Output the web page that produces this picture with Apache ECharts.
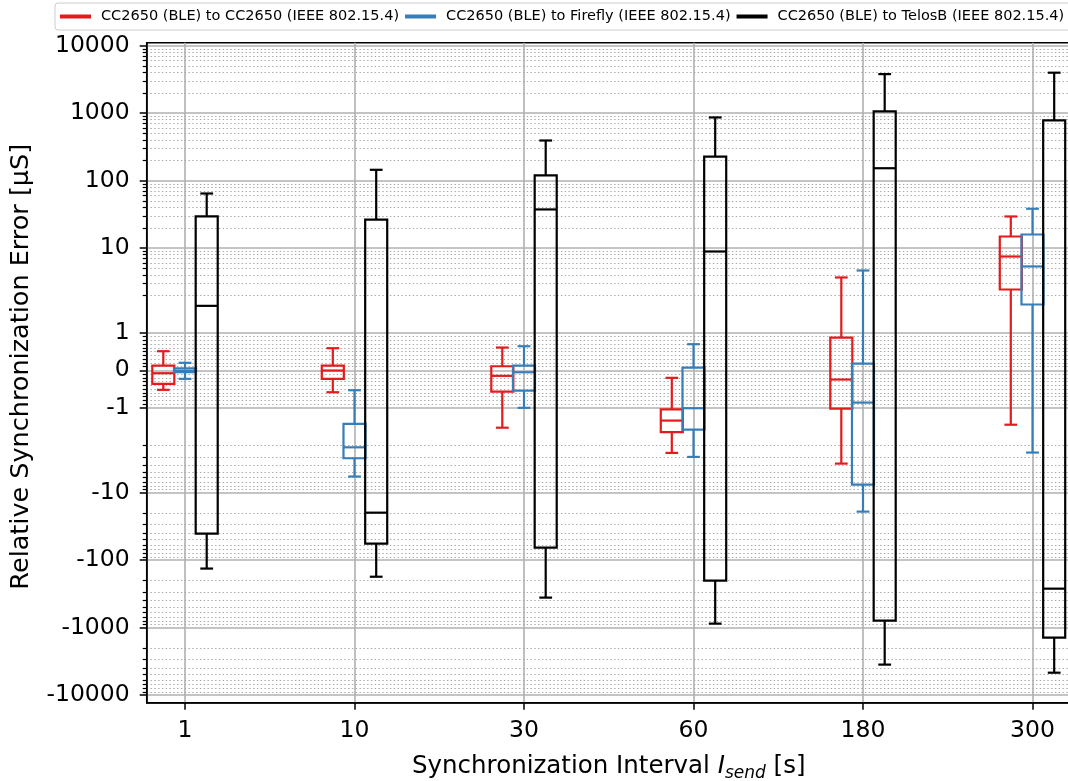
<!DOCTYPE html>
<html>
<head>
<meta charset="utf-8">
<script src="https://cdn.jsdelivr.net/npm/echarts@6/dist/echarts.min.js"></script>
<style>
  html, body { margin: 0; padding: 0; background: #ffffff; }
  #chart { width: 1068px; height: 781px; }
</style>
</head>
<body>
<div id="chart"></div>
<script>
// Synchronization intervals (seconds)
const categories = ['1', '10', '30', '60', '180', '300'];

const seriesNames = [
  'CC2650 (BLE) to CC2650 (IEEE 802.15.4)',
  'CC2650 (BLE) to Firefly (IEEE 802.15.4)',
  'CC2650 (BLE) to TelosB (IEEE 802.15.4)'
];
const seriesColors = ['#e41a1c', '#377eb8', '#000000'];

// Box statistics per interval in µS: [min, Q1, median, Q3, max]
const cc2650Stats = [
  [-0.52, -0.36, -0.077, 0.128, 0.51],
  [-0.584, -0.227, -0.005, 0.128, 0.59],
  [-1.53, -0.566, -0.147, 0.109, 0.608],
  [-2.59, -1.65, -1.34, -1.04, -0.2],
  [-3.73, -1.02, -0.245, 0.875, 3.68],
  [-1.45, 2.44, 7.53, 14.9, 29.5]
];
const fireflyStats = [
  [-0.227, -0.05, -0.005, 0.056, 0.2],
  [-5.8, -3.11, -2.14, -1.43, -0.53],
  [-1.0, -0.539, -0.051, 0.128, 0.643],
  [-2.97, -1.58, -1.01, 0.075, 0.697],
  [-19.2, -7.64, -0.86, 0.18, 4.67],
  [-2.56, 1.756, 5.36, 15.96, 38.4]
];
const telosbStats = [
  [-134, -40.7, 1.72, 29.5, 64.6],
  [-177, -57.2, -19.9, 26.4, 145],
  [-361, -65.6, 37.5, 120, 394],
  [-877, -202, 8.93, 228, 865],
  [-3549, -793, 153, 1062, 3794],
  [-4678, -1416, -266, 782, 3982]
];

// Major y ticks and their labels
const yTickValues = [10000, 1000, 100, 10, 1, 0, -1, -10, -100, -1000, -10000];
const yTickLabels = ['10000', '1000', '100', '10', '1', '0', '-1', '-10', '-100', '-1000', '-10000'];

// Symmetric log scale: linear within ±LINTHRESH, log10 outside
const LINTHRESH = 2;
const LINSCALE_ADJ = 1 / (1 - 1 / 10);
function symlog(v) {
  const a = Math.abs(v);
  if (a <= LINTHRESH) return v * LINSCALE_ADJ;
  return Math.sign(v) * LINTHRESH * (LINSCALE_ADJ + Math.log10(a / LINTHRESH));
}

// Minor ticks: 2..9 per decade, tenths inside ±1
const yMinorValues = [];
for (let k = 0; k <= 3; k++) {
  for (let m = 2; m <= 9; m++) yMinorValues.push(m * Math.pow(10, k), -m * Math.pow(10, k));
}
for (let j = 1; j <= 9; j++) yMinorValues.push(j / 10, -j / 10);

// y extent in scaled units with 5% margins around the data
const allStats = [].concat(cc2650Stats, fireflyStats, telosbStats);
const tLo = Math.min.apply(null, allStats.map(s => symlog(s[0])));
const tHi = Math.max.apply(null, allStats.map(s => symlog(s[4])));
const tPad = 0.05 * (tHi - tLo);
const Y_MIN = tLo - tPad;
const Y_MAX = tHi + tPad;

const BOX_W = 0.13;       // box width in category units
const BOX_OFFSET = 0.128; // horizontal shift of side boxes
const LINE_W = 2.2;
const FONT = 'DejaVu Sans';

function makeBoxSeries(idx, stats, offset) {
  const color = seriesColors[idx];
  return {
    name: seriesNames[idx],
    type: 'custom',
    itemStyle: { color: color },
    data: stats.map((s, i) => [i].concat(s)),
    encode: { x: 0 },
    z: 5,
    renderItem: function (params, api) {
      const xi = api.value(0);
      const v = [1, 2, 3, 4, 5].map(d => api.value(d));
      const cx = api.coord([xi + offset, 0])[0];
      const w = api.size([BOX_W, 0])[0];
      const cap = w * 0.58;
      const y = v.map(val => api.coord([xi, symlog(val)])[1]);
      const yMin = y[0], yQ1 = y[1], yMed = y[2], yQ3 = y[3], yMax = y[4];
      const st = { stroke: color, lineWidth: LINE_W, fill: null };
      const line = (x1, y1, x2, y2) => ({ type: 'line', shape: { x1: x1, y1: y1, x2: x2, y2: y2 }, style: st });
      return {
        type: 'group',
        children: [
          { type: 'rect', shape: { x: cx - w / 2, y: yQ3, width: w, height: yQ1 - yQ3 }, style: { stroke: color, lineWidth: LINE_W, fill: 'none' } },
          line(cx - w / 2, yMed, cx + w / 2, yMed),
          line(cx, yQ3, cx, yMax),
          line(cx, yQ1, cx, yMin),
          line(cx - cap / 2, yMax, cx + cap / 2, yMax),
          line(cx - cap / 2, yMin, cx + cap / 2, yMin)
        ]
      };
    }
  };
}

const chart = echarts.init(document.getElementById('chart'), null, { renderer: 'canvas' });
const catIdx = categories.map((c, i) => i);

chart.setOption({
  animation: false,
  backgroundColor: '#ffffff',
  legend: {
    data: seriesNames.map((n, i) => ({ name: n, itemStyle: { color: seriesColors[i] } })),
    left: 55,
    top: 3,
    width: 1200,
    orient: 'horizontal',
    icon: 'rect',
    itemWidth: 31,
    itemHeight: 4,
    itemGap: 6,
    padding: [6, 8, 6, 5],
    borderColor: '#cccccc',
    borderWidth: 1,
    borderRadius: 3,
    backgroundColor: '#ffffff',
    textStyle: { fontFamily: FONT, fontSize: 14.5, color: '#000000', padding: [0, 0, 0, 5] }
  },
  grid: {
    left: 146.7,
    right: -2.8,
    top: 42.7,
    bottom: 78.3,
    show: true,
    borderColor: '#000000',
    borderWidth: 1.5,
    outerBoundsMode: 'none',
    containLabel: false
  },
  xAxis: {
    type: 'value',
    min: -0.226,
    max: 5.226,
    axisLine: { show: true, onZero: false, lineStyle: { color: '#000000', width: 1.5 } },
    axisTick: { show: true, customValues: catIdx, length: 7, lineStyle: { color: '#000000', width: 1.5 } },
    axisLabel: {
      customValues: catIdx,
      formatter: v => categories[Math.round(v)],
      fontFamily: FONT, fontSize: 23.5, color: '#000000', margin: 16
    },
    splitLine: { show: true, lineStyle: { color: '#b0b0b0', width: 1.6 } },
    name: 'Synchronization Interval {it|I}{sub|send} [s]',
    nameLocation: 'middle',
    nameGap: 48,
    nameTextStyle: {
      fontFamily: FONT, fontSize: 24.5, color: '#000000',
      rich: {
        it: { fontFamily: FONT, fontSize: 24.5, fontStyle: 'italic', color: '#000000' },
        sub: { fontFamily: FONT, fontSize: 17, fontStyle: 'italic', color: '#000000', padding: [14, 0, 0, 0] }
      }
    }
  },
  yAxis: [
    {
      type: 'value',
      min: Y_MIN,
      max: Y_MAX,
      position: 'left',
      axisLine: { show: true, onZero: false, lineStyle: { color: '#000000', width: 1.5 } },
      axisTick: { show: true, customValues: yTickValues.map(symlog), length: 7, lineStyle: { color: '#000000', width: 1.5 } },
      axisLabel: {
        customValues: yTickValues.map(symlog),
        formatter: function (v) {
          let best = 0;
          yTickValues.forEach((t, i) => {
            if (Math.abs(symlog(t) - v) < Math.abs(symlog(yTickValues[best]) - v)) best = i;
          });
          return yTickLabels[best];
        },
        fontFamily: FONT, fontSize: 23.5, color: '#000000', margin: 17, padding: [3, 0, 0, 0]
      },
      splitLine: { show: true, lineStyle: { color: '#b0b0b0', width: 1.6 } },
      name: 'Relative Synchronization Error [µS]',
      nameLocation: 'middle',
      nameGap: 112,
      nameTextStyle: { fontFamily: FONT, fontSize: 25.5, color: '#000000', padding: [0, 0, 0, 12] },
      z: 2
    },
    {
      type: 'value',
      min: Y_MIN,
      max: Y_MAX,
      position: 'left',
      offset: 0,
      axisLine: { show: false, onZero: false },
      axisTick: { show: true, customValues: yMinorValues.map(symlog), length: 4, lineStyle: { color: '#000000', width: 1.2 } },
      axisLabel: { show: false },
      splitLine: { show: true, lineStyle: { color: '#a8a8a8', width: 1.2, type: [1.4, 2.4] } },
      z: 1
    }
  ],
  series: [
    makeBoxSeries(0, cc2650Stats, -BOX_OFFSET),
    makeBoxSeries(1, fireflyStats, 0),
    makeBoxSeries(2, telosbStats, BOX_OFFSET)
  ]
});
</script>
</body>
</html>
